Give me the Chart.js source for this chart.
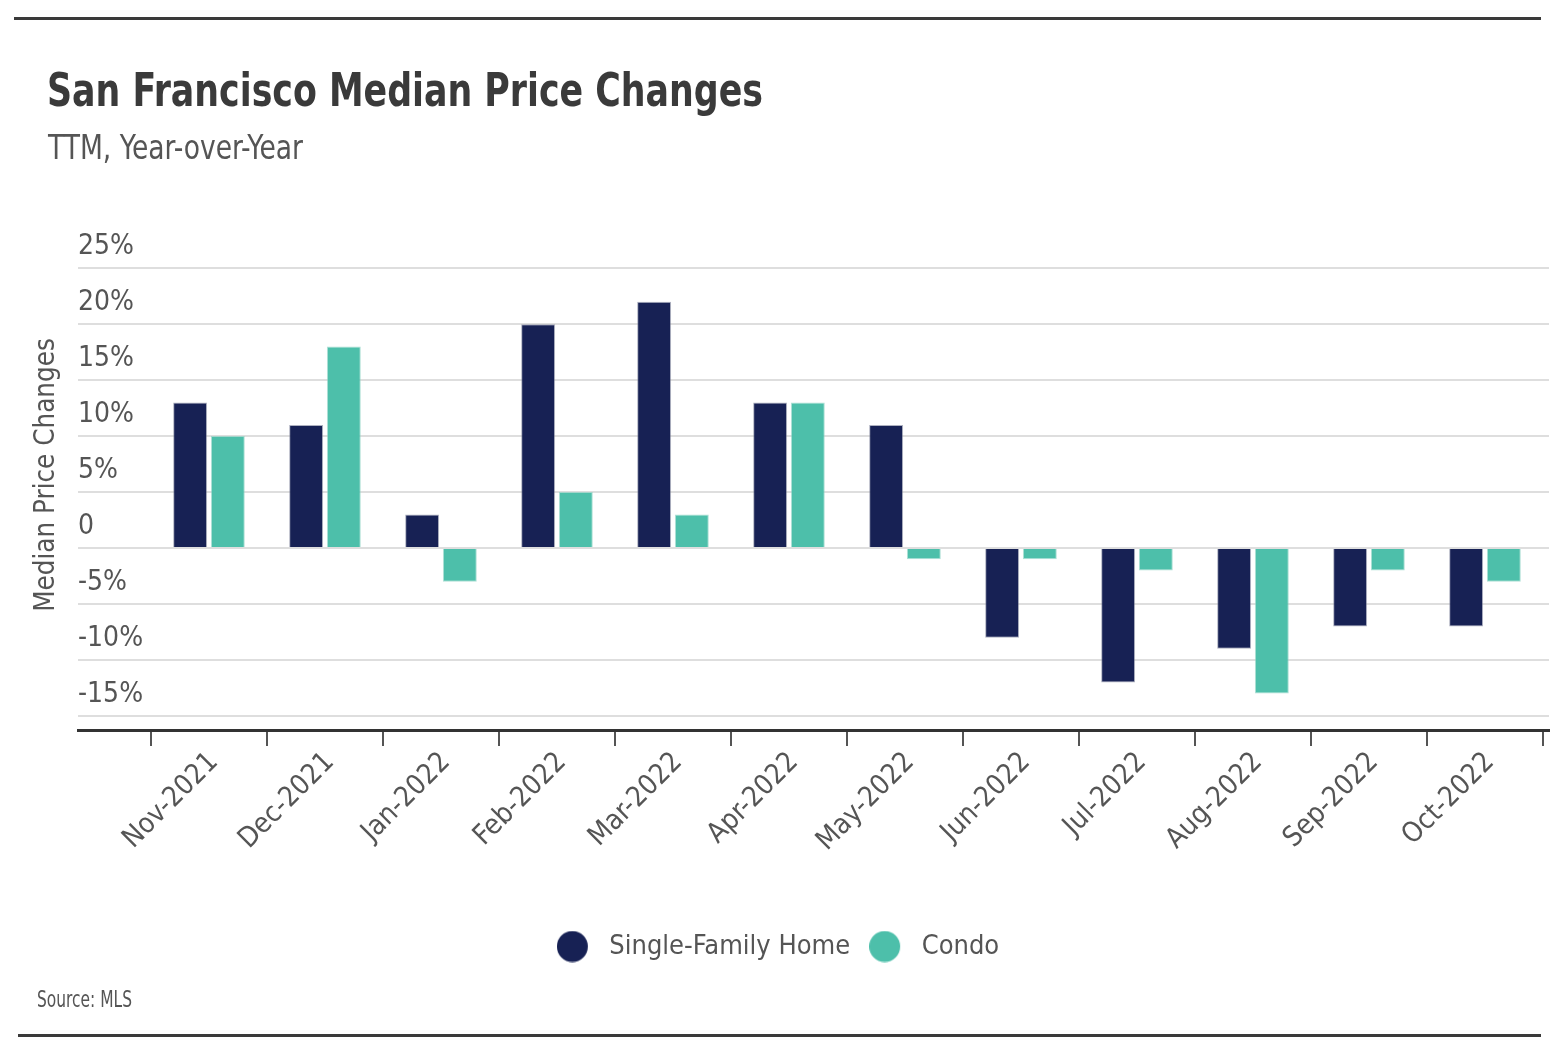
<!DOCTYPE html>
<html>
<head>
<meta charset="utf-8">
<script src="https://cdn.jsdelivr.net/npm/chart.js@4.4.0/dist/chart.umd.min.js"></script>
<style>
  html, body { margin: 0; padding: 0; background: #fff; }
  #wrap { position: relative; width: 1558px; height: 1058px; overflow: hidden; }
  #c { position: absolute; left: 0; top: 0; }
  .rule { position: absolute; height: 3px; background: #3a3a3a; }
  .txt { position: absolute; white-space: nowrap; line-height: 1; transform-origin: 0 0;
         font-family: 'DejaVu Sans Condensed', 'DejaVu Sans', sans-serif; }
  #title { left: 47px; top: 67px; font-size: 46px; font-weight: bold; color: #3a3a3a; }
  #subtitle { left: 48px; top: 131px; font-size: 33px; color: #555; }
  #source { left: 37px; top: 988px; font-size: 23px; color: #555; }
</style>
</head>
<body>
<div id="wrap">
  <canvas id="c" width="1558" height="1058"></canvas>
  <div class="rule" style="left:14px; top:17px; width:1527px;"></div>
  <div class="txt" id="title" data-w="716">San Francisco Median Price Changes</div>
  <div class="txt" id="subtitle" data-w="255">TTM, Year-over-Year</div>
  <div class="txt" id="source" data-w="95">Source:&nbsp;MLS</div>
  <div class="rule" style="left:18px; top:1034px; width:1523px;"></div>
</div>
<script>
const categories = ['Nov-2021','Dec-2021','Jan-2022','Feb-2022','Mar-2022','Apr-2022','May-2022','Jun-2022','Jul-2022','Aug-2022','Sep-2022','Oct-2022'];
const singleFamily = [13, 11, 3, 20, 22, 13, 11, -8, -12, -9, -7, -7];
const condo = [10, 18, -3, 5, 3, 13, -1, -1, -2, -13, -2, -3];
const yTickValues = [-15, -10, -5, 0, 5, 10, 15, 20, 25];

// fit the condensed HTML headings to the reference widths
document.querySelectorAll('.txt[data-w]').forEach(el => {
  const w = el.getBoundingClientRect().width;
  el.style.transform = 'scaleX(' + (parseFloat(el.dataset.w) / w) + ')';
});

const FONT = "'DejaVu Sans Condensed', 'DejaVu Sans', sans-serif";
const NAVY = '#172154';
const TEAL = '#4dbfaa';

// legend marker: a 31px dot, padded on the right so the label sits further away
function legendDot(color) {
  const c = document.createElement('canvas');
  c.width = 56; c.height = 32;
  const g = c.getContext('2d');
  g.fillStyle = color;
  g.beginPath(); g.arc(15.5, 16, 15.5, 0, Math.PI * 2); g.fill();
  return c;
}

const toPoints = arr => arr.map((v, i) => ({ x: i, y: v }));

new Chart(document.getElementById('c'), {
  type: 'bar',
  data: {
    datasets: [
      { label: 'Single-Family Home', data: toPoints(singleFamily), backgroundColor: NAVY, borderColor: 'rgba(120,125,150,0.6)', borderWidth: 1,
        pointStyle: legendDot(NAVY), categoryPercentage: 0.65, barPercentage: 0.9 },
      { label: 'Condo', data: toPoints(condo), backgroundColor: TEAL, borderColor: 'rgba(140,210,195,0.7)', borderWidth: 1,
        pointStyle: legendDot(TEAL), categoryPercentage: 0.65, barPercentage: 0.9 }
    ]
  },
  options: {
    responsive: false,
    devicePixelRatio: 1,
    animation: false,
    layout: { padding: { left: 24, right: 9, top: 220, bottom: 88 } },
    plugins: {
      title: { display: false },
      legend: {
        position: 'bottom',
        labels: {
          usePointStyle: true, boxWidth: 22, boxHeight: 22,
          color: '#555', font: { family: FONT, size: 27 }, padding: 36
        }
      },
      tooltip: { enabled: false }
    },
    scales: {
      x: {
        type: 'linear',
        offset: false,
        min: -1.129, max: 11.552,
        afterBuildTicks: s => { s.ticks = categories.map((_, i) => ({ value: i })); },
        afterFit: s => { s.height = 167; },
        ticks: {
          callback: v => categories[v],
          minRotation: 45, maxRotation: 45, autoSkip: false, labelOffset: 5,
          color: '#555', font: { family: FONT, size: 28 }, padding: 0
        },
        grid: { offset: true, drawOnChartArea: false, drawTicks: true, tickLength: 16, tickColor: '#555', lineWidth: 2 },
        border: { display: true, color: '#333', width: 3 }
      },
      y: {
        type: 'linear',
        min: -16.25, max: 29.3,
        afterBuildTicks: s => { s.ticks = yTickValues.map(v => ({ value: v })); },
        afterFit: s => { s.width = 54; },
        ticks: {
          mirror: true, padding: 0, labelOffset: -21,
          color: '#555', font: { family: FONT, size: 28 },
          callback: v => v === 0 ? '0' : v + '%'
        },
        grid: { color: '#dedede', lineWidth: 2, drawTicks: false },
        border: { display: false },
        title: {
          display: true, text: 'Median Price Changes', color: '#555',
          font: { family: FONT, size: 27.5 }, padding: { top: 6, bottom: 0 }
        }
      }
    }
  }
});
</script>
</body>
</html>
